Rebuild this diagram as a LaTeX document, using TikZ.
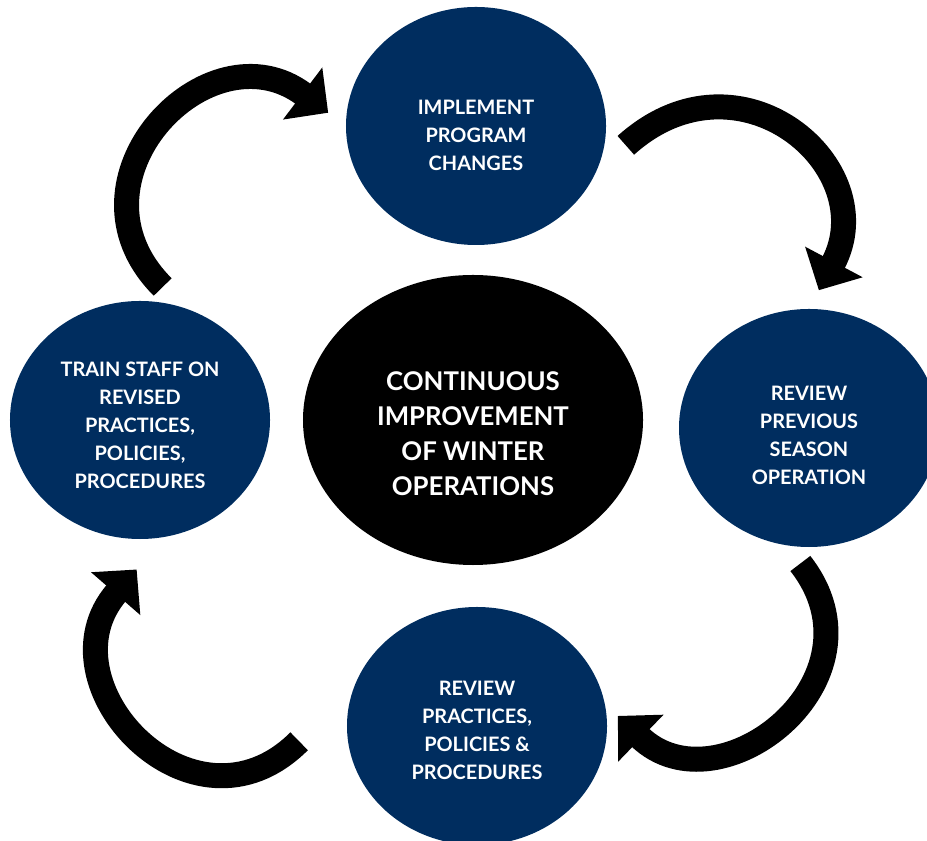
\documentclass[tikz,border=0pt]{standalone}
\usepackage{fontspec}
\setmainfont{Lato}
\usetikzlibrary{shapes.geometric,arrows.meta}

\definecolor{navy}{HTML}{002D5F}
% taller first line, pushes the text block down in its ellipse
\newcommand{\padtop}[1]{\rule{0pt}{#1}}

\tikzset{
  stage/.style={ellipse,fill=navy,text=white,inner sep=0pt,
    minimum width=7.8cm,minimum height=7.14cm,align=center,
    font=\bfseries\fontsize{17}{23.9}\selectfont},
  hub/.style={ellipse,fill=black,text=white,inner sep=0pt,
    minimum width=10.2cm,minimum height=8.7cm,align=center,
    font=\bfseries\fontsize{22}{29.9}\selectfont},
  cyclearrow/.style={line width=0.75cm,
    -{Triangle[width=1.9cm,length=0.96cm]}}
}

\begin{document}
\begin{tikzpicture}[x=0.03cm,y=0.03cm]

\useasboundingbox (0,0) rectangle (927,840);

\node[stage] (impl) at (476,714) {\padtop{27.6pt}IMPLEMENT\\PROGRAM\\CHANGES};
\node[stage] (prev) at (809,412) {\padtop{24.2pt}REVIEW\\PREVIOUS\\SEASON\\OPERATION};
\node[stage] (rev) at (477,114) {\padtop{19pt}REVIEW\\PRACTICES,\\POLICIES \&\\PROCEDURES};
\node[stage] (train) at (140,420) {\padtop{20.7pt}TRAIN STAFF ON\\REVISED\\PRACTICES,\\POLICIES,\\PROCEDURES};

\node[hub] (hub) at (473,420) {\padtop{39.7pt}CONTINUOUS\\IMPROVEMENT\\OF WINTER\\OPERATIONS};

% arrows round the cycle
\draw[cyclearrow,shorten <=0.87cm,shorten >=0.66cm] (train.69)
  to[out=135,in=143,out distance=5.37cm,in distance=5.16cm] (impl.180);
\draw[cyclearrow,shorten <=1.2cm,shorten >=0.63cm] (impl.-21)
  to[out=42,in=62,out distance=5.8cm,in distance=4.8cm] (prev.90);
\draw[cyclearrow,shorten <=0.69cm,shorten >=0.54cm] (prev.259)
  to[out=-52,in=-44,out distance=5.1cm,in distance=4.74cm] (rev.10);
\draw[cyclearrow,shorten <=2.34cm,shorten >=1.29cm] (rev.162)
  to[out=225,in=-131,out distance=6.84cm,in distance=5.8cm] (train.-78);

\end{tikzpicture}
\end{document}
